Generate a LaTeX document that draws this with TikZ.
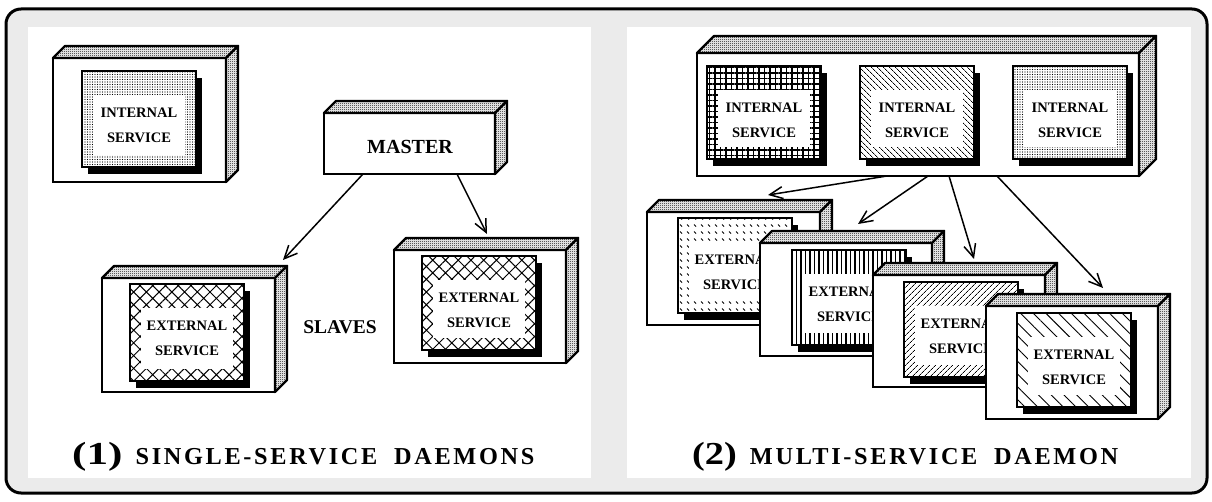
\documentclass[tikz,border=0pt]{standalone}
\usepackage{graphicx}
\usepackage{fontspec}
\setmainfont{Liberation Serif}
\usetikzlibrary{patterns,patterns.meta,arrows.meta,calc}
\definecolor{bggray}{HTML}{EBEBEB}
\pgfdeclarepatternformonly{checker}{\pgfpointorigin}{\pgfpoint{2pt}{2pt}}{\pgfpoint{2pt}{2pt}}{%
 \pgfpathrectangle{\pgfpointorigin}{\pgfpoint{1pt}{1pt}}%
 \pgfpathrectangle{\pgfpoint{1pt}{1pt}}{\pgfpoint{1pt}{1pt}}%
 \pgfusepath{fill}}
\pgfdeclarepatternformonly{ticks}{\pgfpoint{-1pt}{-1pt}}{\pgfpoint{8pt}{8pt}}{\pgfpoint{7pt}{7pt}}{%
 \pgfsetlinewidth{0.8pt}\pgfpathmoveto{\pgfpoint{1pt}{4.5pt}}\pgfpathlineto{\pgfpoint{3pt}{2.5pt}}\pgfusepath{stroke}}
\tikzset{
 slabfront/.style={draw, line width=2.4pt, fill=white, inner sep=0pt, outer sep=0pt},
 face/.style={draw, line width=2.4pt, line join=round, preaction={fill=white}, pattern=checker},
 innerbox/.style={draw, line width=2pt, inner sep=0pt, outer sep=0pt, minimum width=114pt, preaction={fill=white}},
 svc/.style={font=\bfseries\fontsize{14.5}{16}\selectfont, inner sep=0pt},
 big/.style={font=\bfseries\fontsize{20}{22}\selectfont, inner sep=0pt},
 arr/.style={line width=1.5pt, -{Straight Barb[length=13pt,width=12pt,line width=1.5pt]}},
 captxt/.style={anchor=base west, inner sep=0pt, font=\bfseries},
 finedots/.style={pattern={Dots[radius=0.6pt,distance=2.5pt]}},
 diamonds/.style={pattern={Hatch[angle=45,distance=9pt,line width=1pt]}},
 gridpat/.style={pattern={Hatch[angle=0,distance=5.5pt,line width=1.3pt]}},
 nwfine/.style={pattern={Lines[angle=-45,distance=4pt,line width=0.8pt]}},
 vlines/.style={pattern={Lines[angle=90,distance=4.5pt,line width=1.2pt]}},
 nefine/.style={pattern={Lines[angle=45,distance=4pt,line width=0.8pt]}},
 nwcoarse/.style={pattern={Lines[angle=-45,distance=9pt,line width=0.9pt]}},
 tickpat/.style={pattern=ticks},
}
\newcommand\mkslab[6]{%
 \node[slabfront, minimum width=#4pt, minimum height=#5pt, anchor=north west] (#1) at (#2,#3) {};
 \path[face] (#1.north west) -- ++(#6,-#6) -- ($(#1.north east)+(#6,-#6)$) -- (#1.north east) -- cycle;
 \path[face] (#1.north east) -- ++(#6,-#6) -- ($(#1.south east)+(#6,-#6)$) -- (#1.south east) -- cycle;
}
\newcommand\mkinner[7]{%
 \fill (#2+6,#3+7) rectangle (#2+120,#3+#4+7);
 \node[innerbox, minimum height=#4pt, anchor=north west, #5] (#1) at (#2,#3) {};
 \fill[white] (#2+11,#3+24) rectangle (#2+103,#3+#4-12);
 \node[svc] (#1-a) at (#2+57,#3+41.5) {#6};
 \node[svc] (#1-b) at (#2+57,#3+66.5) {#7};
}
\begin{document}
\begin{tikzpicture}[x=1pt,y=-1pt]
\useasboundingbox (0,0) rectangle (1212,502);
\draw[line width=3pt, fill=bggray, rounded corners=15pt] (6,9) rectangle (1207,493);
\fill[white] (28,27) rectangle (591,478);
\fill[white] (627,27) rectangle (1191,478);
% ---------- left panel ----------
\mkslab{lint}{53}{58}{173}{124}{12}
\mkinner{lintbox}{82}{71}{96}{finedots}{INTERNAL}{SERVICE}
\mkslab{master}{324}{113}{171}{61}{12}
\node[big] (mastertxt) at (410,147) {MASTER};
\mkslab{slaveL}{102}{278}{173}{114}{12}
\mkinner{slaveLbox}{130}{284}{97}{diamonds}{EXTERNAL}{SERVICE}
\mkslab{slaveR}{394}{250}{172}{113}{12}
\mkinner{slaveRbox}{422}{256}{94}{diamonds}{EXTERNAL}{SERVICE}
\node[font=\bfseries\fontsize{19.5}{21}\selectfont, inner sep=0pt] (slaves) at (340,327) {SLAVES};
\coordinate (tipL) at (283,260);
\coordinate (tipR) at (487,234);
\draw[arr] ([xshift=39pt]master.south west) -- (tipL);
\draw[arr] ([xshift=133pt]master.south west) -- (tipR);
\node[captxt] (cap1) at (72,464) {\scalebox{1.35}[1]{\fontsize{32}{34}\selectfont(1)}\hspace{13pt}{\fontsize{24.3}{26}\selectfont\addfontfeature{LetterSpace=11}SINGLE-SERVICE\hspace{8pt} DAEMONS}};
% ---------- right panel ----------
\mkslab{daemon}{697}{53}{442}{123}{17}
\mkinner{ri1}{707}{66}{93}{gridpat}{INTERNAL}{SERVICE}
\mkinner{ri2}{860}{66}{93}{nwfine}{INTERNAL}{SERVICE}
\mkinner{ri3}{1013}{66}{93}{finedots}{INTERNAL}{SERVICE}
\coordinate (tipA) at (768,195);
\coordinate (tipB) at (858,224);
\coordinate (tipC) at (974,259);
\coordinate (tipD) at (1103,288);
\draw[arr] ([xshift=190pt]daemon.south west) -- (tipA);
\draw[arr] ([xshift=231pt]daemon.south west) -- (tipB);
\draw[arr] ([xshift=252pt]daemon.south west) -- (tipC);
\draw[arr] ([xshift=300pt]daemon.south west) -- (tipD);
\mkslab{extA}{647}{212}{173}{113}{12}
\mkinner{extAbox}{678}{218}{95}{tickpat}{EXTERNAL}{SERVICE}
\mkslab{extB}{760}{243}{172}{113}{12}
\mkinner{extBbox}{792}{250}{95}{vlines}{EXTERNAL}{SERVICE}
\mkslab{extC}{873}{275}{172}{112}{12}
\mkinner{extCbox}{904}{282}{95}{nefine}{EXTERNAL}{SERVICE}
\mkslab{extD}{986}{306}{172}{113}{12}
\mkinner{extDbox}{1017}{313}{94}{nwcoarse}{EXTERNAL}{SERVICE}
\node[captxt] (cap2) at (692,464) {\scalebox{1.2}[1]{\fontsize{32}{34}\selectfont(2)}\hspace{13pt}{\fontsize{24.3}{26}\selectfont\addfontfeature{LetterSpace=11}MULTI-SERVICE\hspace{8pt} DAEMON}};
\end{tikzpicture}
\end{document}
